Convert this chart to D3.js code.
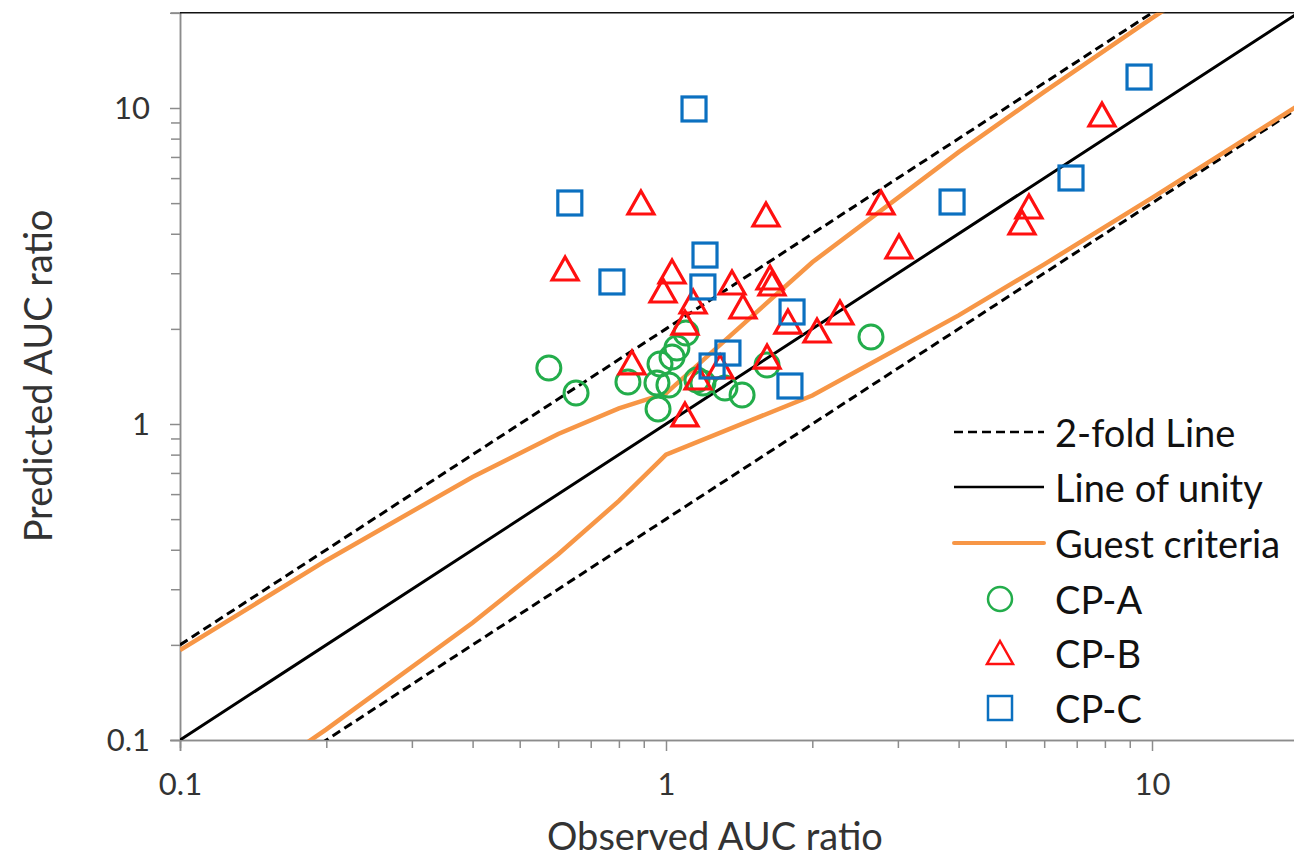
<!DOCTYPE html>
<html lang="en">
<head>
<meta charset="UTF-8">
<title>Predicted vs observed AUC ratio</title>
<script src="https://d3js.org/d3.v7.min.js"></script>
<style>
    body { margin: 0; background: #fff; font-family: Lato, "Open Sans", sans-serif; }
    .axis path, .axis line { stroke: #8c8c8c; stroke-width: 1.5; }
    .axis text { fill: #333; font-size: 31px; font-family: Lato, sans-serif; }
    .title { fill: #333; font-size: 38px; }
    .legend text { fill: #111; font-size: 38px; }
</style>
</head>
<body>
<svg id="chart" width="1294" height="857"></svg>
<script>
// observed / predicted AUC ratios
const cpA_obs  = [0.574, 0.653, 0.835, 0.963, 0.972, 1.029, 1.053, 1.099, 0.958, 1.014, 1.158, 1.191, 1.322, 1.434, 1.614, 2.641];
const cpA_pred = [1.504, 1.253, 1.358, 1.116, 1.548, 1.629, 1.740, 1.941, 1.348, 1.329, 1.378, 1.348, 1.300, 1.235, 1.537, 1.885];

const cpB_obs  = [0.620, 0.888, 1.606, 1.029, 0.986, 1.137, 1.367, 1.637, 1.652, 1.440, 1.094, 1.782, 2.045, 2.280, 0.851, 1.164, 1.292, 1.614, 1.094, 2.770, 3.016, 5.582, 5.401, 7.890];
const cpB_pred = [3.094, 5.005, 4.585, 3.027, 2.636, 2.433, 2.794, 2.897, 2.774, 2.346, 2.087, 2.102, 1.969, 2.245, 1.560, 1.398, 1.515, 1.629, 1.068, 5.005, 3.632, 4.861, 4.326, 9.502];

const cpC_obs  = [0.634, 1.142, 0.774, 1.203, 1.191, 1.817, 1.341, 1.244, 1.799, 3.878, 6.813, 9.404];
const cpC_pred = [5.005, 9.930, 2.815, 3.425, 2.714, 2.262, 1.677, 1.526, 1.319, 5.041, 6.005, 12.53];

// reference lines
const unityX = [0.1, 1, 10, 20];
const unityY = [0.1, 1, 10, 20];
const foldX = [0.1, 1, 10, 20];
const foldUpper = [0.2, 2, 20, 40];
const foldLower = [0.05, 0.5, 5, 10];
const guestX = [0.1, 0.2, 0.4, 0.6, 0.8, 1, 2, 4, 6, 10, 20];
const guestUpper = [0.1925, 0.37, 0.68, 0.93, 1.12, 1.25, 3.25, 7.25, 11.25, 19.25, 39.25];
const guestLower = [0.052, 0.108, 0.235, 0.387, 0.571, 0.8, 1.231, 2.207, 3.2, 5.195, 10.19];

const majorTicks = [0.1, 1, 10];
const minorTicks = [0.2, 0.3, 0.4, 0.5, 0.6, 0.7, 0.8, 0.9, 2, 3, 4, 5, 6, 7, 8, 9, 20];

const legendItems = ["2-fold Line", "Line of unity", "Guest criteria", "CP-A", "CP-B", "CP-C"];

const svg = d3.select("#chart");
const left = 180, bottom = 740, decadeX = 486, decadeY = 316;
const span = Math.log10(20 / 0.1);

const x = d3.scaleLog().domain([0.1, 20]).range([left, left + decadeX * span]);
const y = d3.scaleLog().domain([0.1, 20]).range([bottom, bottom - decadeY * span]);
const plotTop = y(20);

svg.append("clipPath").attr("id", "plot")
    .append("rect")
    .attr("x", left).attr("y", plotTop)
    .attr("width", x(20) - left).attr("height", bottom - plotTop);

// axes
svg.append("g").attr("class", "axis")
    .attr("transform", `translate(0,${bottom})`)
    .call(d3.axisBottom(x).tickValues(minorTicks).tickSize(8).tickFormat(""));
const xMajor = svg.append("g").attr("class", "axis")
    .attr("transform", `translate(0,${bottom})`)
    .call(d3.axisBottom(x).tickValues(majorTicks).tickSize(11).tickFormat(d3.format("")));
xMajor.selectAll("text").attr("y", 44).attr("dy", "0.35em");

svg.append("g").attr("class", "axis")
    .attr("transform", `translate(${left},0)`)
    .call(d3.axisLeft(y).tickValues(minorTicks).tickSize(9).tickFormat(""));
const yMajor = svg.append("g").attr("class", "axis")
    .attr("transform", `translate(${left},0)`)
    .call(d3.axisLeft(y).tickValues(majorTicks).tickSize(10).tickFormat(d3.format("")));
yMajor.selectAll("text").attr("x", -30).attr("dy", "0.35em");

// top frame line
svg.append("line")
    .attr("x1", left).attr("x2", x(20))
    .attr("y1", plotTop).attr("y2", plotTop)
    .attr("stroke", "#111").attr("stroke-width", 1.5);

// reference lines
const line = d3.line().x(d => x(d[0])).y(d => y(d[1]));
const lines = svg.append("g").attr("clip-path", "url(#plot)");

lines.append("path")
    .attr("d", line(d3.zip(foldX, foldUpper)))
    .attr("fill", "none").attr("stroke", "#000").attr("stroke-width", 3).attr("stroke-dasharray", "9,5");
lines.append("path")
    .attr("d", line(d3.zip(foldX, foldLower)))
    .attr("fill", "none").attr("stroke", "#000").attr("stroke-width", 3).attr("stroke-dasharray", "9,5");
lines.append("path")
    .attr("d", line(d3.zip(unityX, unityY)))
    .attr("fill", "none").attr("stroke", "#000").attr("stroke-width", 3);
lines.append("path")
    .attr("d", line(d3.zip(guestX, guestUpper)))
    .attr("fill", "none").attr("stroke", "#f79646").attr("stroke-width", 4.5);
lines.append("path")
    .attr("d", line(d3.zip(guestX, guestLower)))
    .attr("fill", "none").attr("stroke", "#f79646").attr("stroke-width", 4.5);

// markers
const green = "#23ad4b", red = "#ff1010", blue = "#0b70c0";
const triPath = "M0,-12L13,11L-13,11Z";

svg.append("g").selectAll("circle")
    .data(d3.zip(cpA_obs, cpA_pred))
    .join("circle")
    .attr("cx", d => x(d[0])).attr("cy", d => y(d[1]))
    .attr("r", 12)
    .attr("fill", "none").attr("stroke", green).attr("stroke-width", 3);

svg.append("g").selectAll("path")
    .data(d3.zip(cpB_obs, cpB_pred))
    .join("path")
    .attr("d", triPath)
    .attr("transform", d => `translate(${x(d[0])},${y(d[1])})`)
    .attr("fill", "none").attr("stroke", red).attr("stroke-width", 3.2);

svg.append("g").selectAll("rect")
    .data(d3.zip(cpC_obs, cpC_pred))
    .join("rect")
    .attr("x", d => x(d[0]) - 12).attr("y", d => y(d[1]) - 12)
    .attr("width", 24).attr("height", 24)
    .attr("fill", "none").attr("stroke", blue).attr("stroke-width", 3.2);

// axis titles
svg.append("text").attr("class", "title")
    .attr("x", 715).attr("y", 835)
    .attr("text-anchor", "middle").attr("dominant-baseline", "central")
    .text("Observed AUC ratio");
svg.append("text").attr("class", "title")
    .attr("transform", "translate(37,376) rotate(-90)")
    .attr("text-anchor", "middle").attr("dominant-baseline", "central")
    .text("Predicted AUC ratio");

// legend
const legend = svg.append("g").attr("class", "legend");
const rowY = [432, 487, 543, 599, 653, 708];
legendItems.forEach((name, i) => {
    legend.append("text")
        .attr("x", 1055).attr("y", rowY[i])
        .attr("dominant-baseline", "central")
        .text(name);
});
legend.append("line").attr("x1", 954).attr("x2", 1044).attr("y1", rowY[0]).attr("y2", rowY[0])
    .attr("stroke", "#000").attr("stroke-width", 2.5).attr("stroke-dasharray", "9,5");
legend.append("line").attr("x1", 954).attr("x2", 1044).attr("y1", rowY[1]).attr("y2", rowY[1])
    .attr("stroke", "#000").attr("stroke-width", 2.5);
legend.append("line").attr("x1", 954).attr("x2", 1044).attr("y1", rowY[2]).attr("y2", rowY[2])
    .attr("stroke", "#f79646").attr("stroke-width", 4).attr("stroke-linecap", "round");
legend.append("circle").attr("cx", 1000).attr("cy", rowY[3]).attr("r", 12)
    .attr("fill", "none").attr("stroke", green).attr("stroke-width", 2.5);
legend.append("path").attr("d", triPath).attr("transform", `translate(1000,${rowY[4]})`)
    .attr("fill", "none").attr("stroke", red).attr("stroke-width", 2.5);
legend.append("rect").attr("x", 988).attr("y", rowY[5] - 12).attr("width", 24).attr("height", 24)
    .attr("fill", "none").attr("stroke", blue).attr("stroke-width", 2.5);
</script>
</body>
</html>
